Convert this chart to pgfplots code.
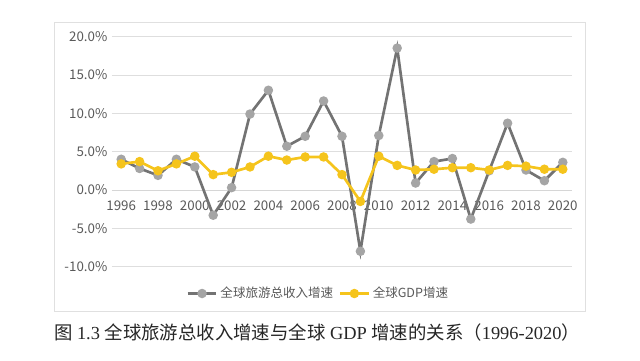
\documentclass[border=0pt]{standalone}
\usepackage{pgfplots}
\pgfplotsset{compat=1.18}
\usepackage{fontspec}
\setmainfont{Liberation Serif}
\newfontfamily\cjk{Noto Sans CJK SC}
\definecolor{tgray}{RGB}{115,115,115}
\definecolor{tgraym}{RGB}{165,165,165}
\definecolor{gdp}{RGB}{245,196,28}
\definecolor{txt}{RGB}{89,89,89}
\begin{document}
\begin{tikzpicture}[x=0.75pt,y=0.75pt]
\path[use as bounding box] (0,0) rectangle (640,361);
\draw[draw=black!12, line width=0.75pt] (54,49) rectangle (585,338);
\begin{axis}[at={(84pt,70.8pt)}, anchor=south west, scale only axis,
  width=345pt, height=172.5pt,
  xmin=1995.5, xmax=2020.5, ymin=-10, ymax=20,
  axis x line=middle, axis y line=left, axis line style={-},
  x axis line style={draw=black!16, line width=0.6pt},
  y axis line style={draw=none},
  hide obscured y ticks=false, hide obscured x ticks=false,
  ytick={-10,-5,0,5,10,15,20}, xtick={1996,1998,...,2020},
  ymajorgrids, grid style={black!13, line width=0.6pt},
  major tick length=0pt,
  tick label style={font=\cjk\fontsize{10}{12}\selectfont, text=txt},
  yticklabel style={/pgf/number format/.cd, fixed, fixed zerofill, precision=1, assume math mode=true},
  yticklabel={\pgfmathprintnumber{\tick}\%},
  xticklabel style={yshift=-5pt, /pgf/number format/.cd, 1000 sep={}, assume math mode=true},
  legend style={at={(0.449,-0.117)}, anchor=center, draw=none, fill=none,
    legend columns=2, font=\cjk\fontsize{9.4}{11}\selectfont, text=txt,
    /tikz/every even column/.append style={column sep=2pt}},
  legend image code/.code={\draw[mark repeat=2,mark phase=2] plot coordinates {(0cm,0cm)(0.38cm,0cm)(0.76cm,0cm)};},
]
\addplot[color=tgray, line width=2pt, mark=*, mark size=2.5pt, mark options={fill=tgraym, draw=tgraym}] coordinates {
(1996,4.0) (1997,2.8) (1998,1.9) (1999,4.0) (2000,3.0) (2001,-3.3) (2002,0.3) (2003,9.9) (2004,13.0) (2005,5.7) (2006,7.0) (2007,11.6) (2008,7.0) (2009,-8.0) (2010,7.1) (2011,18.5) (2012,0.9) (2013,3.7) (2014,4.1) (2015,-3.8) (2016,2.5) (2017,8.7) (2018,2.6) (2019,1.2) (2020,3.6)};
\addlegendentry{全球旅游总收入增速}
\addplot[color=gdp, line width=2pt, mark=*, mark size=2.5pt, mark options={fill=gdp, draw=gdp}] coordinates {
(1996,3.4) (1997,3.7) (1998,2.5) (1999,3.4) (2000,4.4) (2001,2.0) (2002,2.3) (2003,3.0) (2004,4.4) (2005,3.9) (2006,4.3) (2007,4.3) (2008,2.0) (2009,-1.5) (2010,4.4) (2011,3.2) (2012,2.6) (2013,2.7) (2014,2.9) (2015,2.9) (2016,2.6) (2017,3.2) (2018,3.1) (2019,2.7) (2020,2.7)};
\addlegendentry{全球GDP增速}
\end{axis}
\node[font=\fontsize{13.8}{16}\selectfont, text=black!85] at (317,28) {{\cjk 图} 1.3 {\cjk 全球旅游总收入增速与全球} GDP {\cjk 增速的关系（}1996-2020{\cjk ）}};
\end{tikzpicture}
\end{document}
